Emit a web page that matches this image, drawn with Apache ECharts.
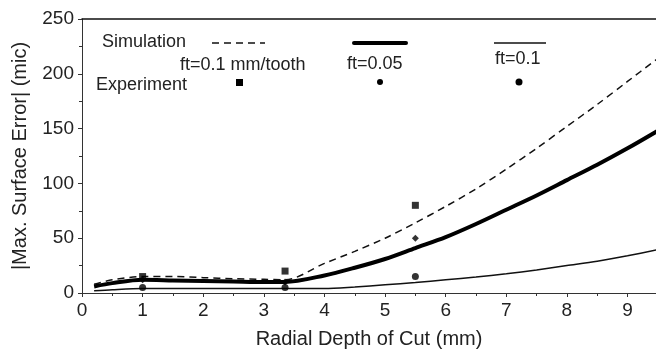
<!DOCTYPE html>
<html>
<head>
<meta charset="utf-8">
<script src="https://cdn.jsdelivr.net/npm/echarts@6/dist/echarts.min.js"></script>
<style>
  html, body { margin: 0; padding: 0; background: #fff; }
  #EChart { width: 656px; height: 354px; }
</style>
</head>
<body>
<div id="EChart"></div>
<script>
// radial depth of cut (mm) for the simulation curves
const depth = [0.2, 0.5, 1, 1.5, 2, 2.5, 3, 3.35, 4, 4.5, 5, 5.5, 6, 6.5, 7, 7.5, 8, 8.5, 9, 9.5];
const simFt01Dashed = [8, 12, 15, 15, 14, 13, 12.5, 12, 27, 38, 50, 64, 79, 95, 113, 132, 152, 172, 193, 214];
const simFt005 = [6, 9, 12, 11.5, 11, 10.5, 10, 10, 16, 23, 31, 41, 51, 63, 76, 89, 103, 117, 132, 148];
const simFt01Thin = [2, 3, 4, 4, 4, 4, 4, 4, 4, 5.5, 7.5, 9.5, 12, 14.5, 17.5, 21, 25, 29, 34, 39.5];

// experiment points
const expDepth = [1, 3.35, 5.5];
const expFt01Square = [15, 20, 80];
const expFt005 = [12, 10, 50];
const expFt01Circle = [5, 5, 15];

const yTicks = [0, 50, 100, 150, 200, 250];

function pairs(xs, ys) {
    return xs.map(function (x, i) { return [x, ys[i]]; });
}

const FONT = 'Liberation Sans';

let EChart;
let config = {
    animation: false,
    backgroundColor: '#fff',
    textStyle: { fontFamily: FONT },
    grid: { left: 82, top: 19, right: 0, bottom: 61 },
    xAxis: [{
        type: 'value',
        min: 0,
        max: 9.47,
        interval: 1,
        name: 'Radial Depth of Cut (mm)',
        nameLocation: 'middle',
        nameGap: 36,
        nameTextStyle: { color: '#222', fontSize: 20, fontFamily: FONT },
        axisLine: { lineStyle: { color: '#333', width: 1 } },
        axisTick: { show: true, inside: false, length: 4, lineStyle: { color: '#333' } },
        minorTick: { show: true, splitNumber: 2, length: 3, lineStyle: { color: '#333' } },
        axisLabel: { color: '#222', fontSize: 19, margin: 8, fontFamily: FONT, showMaxLabel: false },
        splitLine: { show: false }
    }, {
        type: 'value',
        position: 'top',
        min: 0,
        max: 9.47,
        axisLine: { show: true, lineStyle: { color: '#111', width: 1.5 } },
        axisTick: { show: false },
        axisLabel: { show: false },
        splitLine: { show: false }
    }],
    yAxis: {
        type: 'value',
        min: 0,
        max: 250,
        interval: 50,
        name: '|Max. Surface Error| (mic)',
        nameLocation: 'middle',
        nameGap: 52,
        nameTextStyle: { color: '#222', fontSize: 20, fontFamily: FONT },
        axisLine: { show: true, lineStyle: { color: '#333', width: 1 } },
        axisTick: { show: true, length: 4, lineStyle: { color: '#333' } },
        minorTick: { show: true, splitNumber: 2, length: 3, lineStyle: { color: '#333' } },
        axisLabel: {
            color: '#222', fontSize: 19, margin: 8, fontFamily: FONT,
            formatter: function (v) { return yTicks.indexOf(v) >= 0 ? String(v) : ''; }
        },
        splitLine: { show: false }
    },
    series: [{
        name: 'sim ft=0.1 mm/tooth',
        type: 'line',
        data: pairs(depth, simFt01Dashed),
        showSymbol: false,
        smooth: 0.3,
        lineStyle: { color: '#111', width: 1.5, type: [7, 5] },
        z: 3
    }, {
        name: 'sim ft=0.05',
        type: 'line',
        data: pairs(depth, simFt005),
        showSymbol: false,
        smooth: 0.3,
        lineStyle: { color: '#000', width: 4 },
        z: 3
    }, {
        name: 'sim ft=0.1',
        type: 'line',
        data: pairs(depth, simFt01Thin),
        showSymbol: false,
        smooth: 0.3,
        lineStyle: { color: '#111', width: 1.5 },
        z: 3
    }, {
        name: 'exp ft=0.1 mm/tooth',
        type: 'scatter',
        data: pairs(expDepth, expFt01Square),
        symbol: 'rect',
        symbolSize: 7,
        itemStyle: { color: '#000' },
        z: 4
    }, {
        name: 'exp ft=0.05',
        type: 'scatter',
        data: pairs(expDepth, expFt005),
        symbol: 'diamond',
        symbolSize: 7,
        itemStyle: { color: '#000' },
        z: 4
    }, {
        name: 'exp ft=0.1',
        type: 'scatter',
        data: pairs(expDepth, expFt01Circle),
        symbol: 'circle',
        symbolSize: 7,
        itemStyle: { color: '#000' },
        z: 4
    }],
    graphic: [
        { type: 'text', left: 102, top: 33, style: { text: 'Simulation', font: '18px ' + FONT, fill: '#222' } },
        { type: 'line', shape: { x1: 212, y1: 43, x2: 265, y2: 43 }, style: { stroke: '#111', lineWidth: 1.5, lineDash: [7, 5] } },
        { type: 'text', left: 180, top: 56, style: { text: 'ft=0.1 mm/tooth', font: '18px ' + FONT, fill: '#222' } },
        { type: 'text', left: 96, top: 76, style: { text: 'Experiment', font: '18px ' + FONT, fill: '#222' } },
        { type: 'rect', shape: { x: 236, y: 79, width: 7, height: 7 }, style: { fill: '#000' } },

        { type: 'line', shape: { x1: 354, y1: 43, x2: 406, y2: 43 }, style: { stroke: '#000', lineWidth: 4, lineCap: 'round' } },
        { type: 'text', left: 347, top: 55, style: { text: 'ft=0.05', font: '18px ' + FONT, fill: '#222' } },
        { type: 'circle', shape: { cx: 380, cy: 82, r: 3 }, style: { fill: '#000' } },

        { type: 'line', shape: { x1: 494, y1: 43, x2: 546, y2: 43 }, style: { stroke: '#111', lineWidth: 1.5 } },
        { type: 'text', left: 495, top: 50, style: { text: 'ft=0.1', font: '18px ' + FONT, fill: '#222' } },
        { type: 'circle', shape: { cx: 519, cy: 82, r: 3.5 }, style: { fill: '#000' } }
    ]
};

function Init() {
    EChart = echarts.init(document.getElementById('EChart'));
    EChart.setOption(config);
}

Init();
</script>
</body>
</html>
